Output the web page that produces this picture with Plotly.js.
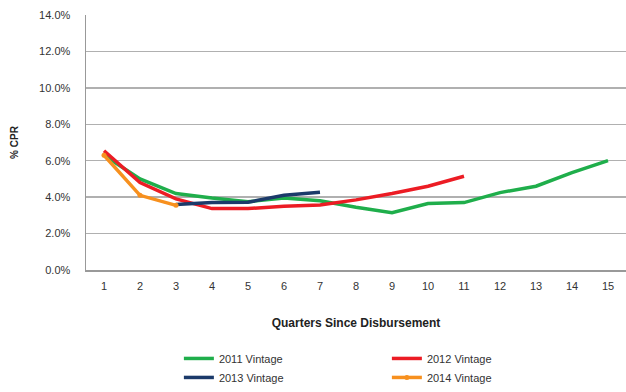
<!DOCTYPE html>
<html>
<head>
<meta charset="utf-8">
<script src="https://cdn.plot.ly/plotly-3.0.1.min.js"></script>
<style>html,body{margin:0;padding:0;background:#fff;}#chart{width:626px;height:392px;}</style>
</head>
<body>
<div id="chart"></div>
<script>
var quarters = [1,2,3,4,5,6,7,8,9,10,11,12,13,14,15];
var v2011 = [6.3,5.0,4.2,3.95,3.75,3.95,3.8,3.45,3.15,3.65,3.7,4.25,4.6,5.35,6.0];
var v2012 = [6.55,4.8,3.9,3.37,3.37,3.5,3.57,3.85,4.2,4.6,5.15];
var v2013 = [3.6,3.7,3.72,4.1,4.27];
var q2013 = [3,4,5,6,7];
var v2014 = [6.3,4.1,3.55];
var names = ['2011 Vintage','2012 Vintage','2013 Vintage','2014 Vintage'];
var colors = ['#1fae4b','#ec1c24','#1b3a6a','#f7901e'];

var traces = [
  {x: quarters, y: v2011, name: names[0], mode:'lines', line:{color:colors[0], width:3.5}},
  {x: quarters.slice(0, v2012.length), y: v2012, name: names[1], mode:'lines', line:{color:colors[1], width:3.5}},
  {x: q2013, y: v2013, name: names[2], mode:'lines', line:{color:colors[2], width:3.5}},
  {x: quarters.slice(0, v2014.length), y: v2014, name: names[3], mode:'lines+markers', line:{color:colors[3], width:3.5}, marker:{color:colors[3], size:5}}
];

var layout = {
  width: 626, height: 392,
  margin: {l:86, r:0, t:15, b:118},
  paper_bgcolor:'#fff', plot_bgcolor:'#fff',
  font: {family:'Liberation Sans, Arial, sans-serif', size:11, color:'#333'},
  showlegend: true,
  legend: {orientation:'h', x:0.172, xanchor:'left', y:-0.29, yanchor:'top',
           entrywidth:163, entrywidthmode:'pixels', tracegroupgap:0,
           font:{family:'Liberation Sans, Arial, sans-serif', size:11, color:'#333'}},
  xaxis: {
    range:[0.5,15.5], tickmode:'array', tickvals: quarters, ticktext: quarters.map(String),
    showgrid:false, zeroline:false, showline:true, linecolor:'#999', linewidth:1.5,
    ticks:'outside', ticklen:5, tickcolor:'rgba(0,0,0,0)', tickfont:{size:11, color:'#333'},
    title:{text:'<b>Quarters Since Disbursement</b>', standoff:28, font:{size:12, color:'#222'}}
  },
  yaxis: {
    range:[0,14], tickvals:[0,2,4,6,8,10,12,14],
    ticktext:['0.0%','2.0%','4.0%','6.0%','8.0%','10.0%','12.0%','14.0%'],
    showgrid:true, gridcolor:'#b0b0b0', gridwidth:1.5, zeroline:false,
    showline:true, linecolor:'#999', linewidth:1.5,
    ticks:'outside', ticklen:12, tickcolor:'rgba(0,0,0,0)',
    tickfont:{size:11, color:'#333'},
    title:{text:'<b>% CPR</b>', standoff:18, font:{size:10, color:'#222'}}
  }
};
Plotly.newPlot('chart', traces, layout, {displayModeBar:false, staticPlot:true});
</script>
</body>
</html>
